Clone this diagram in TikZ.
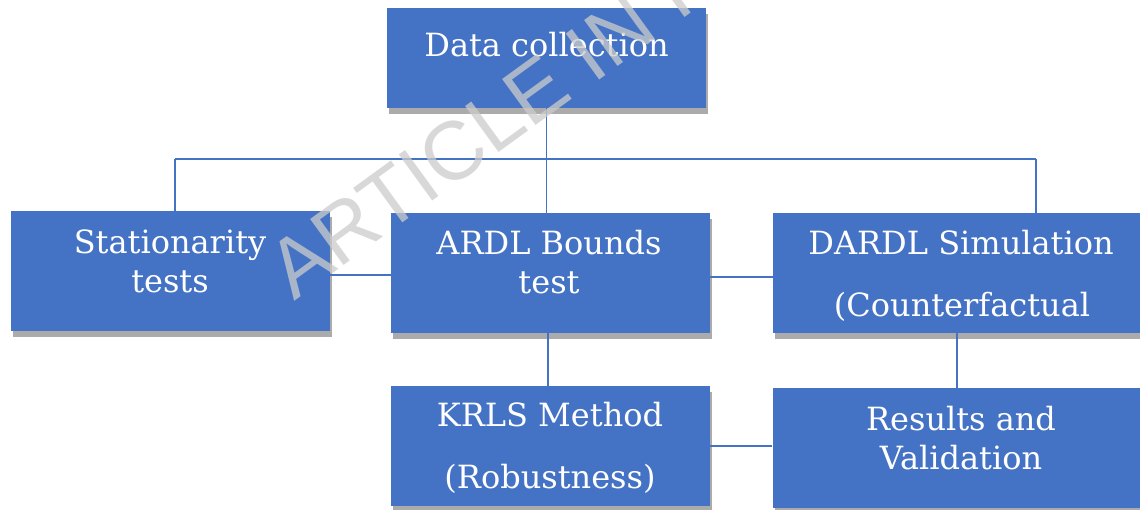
\documentclass[tikz,border=0pt]{standalone}
\usepackage{fontspec}
\setmainfont{DejaVu Serif}
\newfontfamily\wmfont{Liberation Sans}
\usetikzlibrary{shadows}
\definecolor{boxblue}{HTML}{4472C4}
\definecolor{shadowgray}{HTML}{ABABAB}
\definecolor{wmgray}{HTML}{CCCCCC}
\tikzset{
  box/.style={fill=boxblue, draw=none, minimum width=239.25pt, minimum height=90pt, inner sep=0pt,
    drop shadow={shadow xshift=1.5pt, shadow yshift=-4.5pt, fill=shadowgray, opacity=1}},
  widebox/.style={box, minimum width=282pt},
  shortbox/.style={box, minimum height=75pt},
  txt/.style={text=white, anchor=base, inner sep=0pt, font=\fontsize{24}{29}\selectfont},
  conn/.style={draw=boxblue, line width=1.3pt},
}
\begin{document}
\begin{tikzpicture}[x=0.75pt,y=-0.75pt]
\useasboundingbox (0,0) rectangle (1140,510);
\clip (0,0) rectangle (1140,510);
\fill[white] (0,0) rectangle (1140,510);
% boxes
\node[shortbox] (dc) at (546.5,58) {};
\node[box] (st) at (170.5,271) {};
\node[box] (ardl) at (550.5,273) {};
\node[widebox] (dardl) at (961,273) {};
\node[box] (krls) at (550.5,446) {};
\node[widebox] (res) at (960.5,448) {};
% texts
\node[txt] (t1) at (546.5,57) {Data collection};
\node[txt] (t2) at (170,253) {Stationarity};
\node[txt] (t3) at (170,292) {tests};
\node[txt] (t4) at (549,254) {ARDL Bounds};
\node[txt] (t5) at (549,293) {test};
\node[txt] (t6) at (961,254) {DARDL Simulation};
\node[txt] (t7) at (962,316) {(Counterfactual};
\node[txt] (t8) at (550,426) {KRLS Method};
\node[txt] (t9) at (550,488) {(Robustness)};
\node[txt] (t10) at (961,430) {Results and};
\node[txt] (t11) at (961,469) {Validation};
% connectors
\coordinate (jl) at (175,159);
\coordinate (jr) at (1036,159);
\draw[conn] (jl) -- (jr);
\draw[conn] (jl) -- (jl |- st.north);
\draw[conn] (jr) -- (jr |- dardl.north);
\draw[conn] (dc.south) -- (dc.south |- ardl.north);
\draw[conn] ([yshift=-3pt]st.east) -- ([yshift=-3pt]st.east -| ardl.west);
\draw[conn] ([yshift=-3pt]ardl.east) -- ([yshift=-3pt]ardl.east -| dardl.west);
\draw[conn] ([xshift=-2pt]ardl.south) -- ([xshift=-2pt]ardl.south |- krls.north);
\draw[conn] ([xshift=-3pt]dardl.south) -- ([xshift=-3pt]dardl.south |- res.north);
\draw[conn] (krls.east) -- (krls.east -| res.west);
% watermark
\node[anchor=base west, rotate=36, inner sep=0pt, text=wmgray, opacity=0.75,
      font=\wmfont\fontsize{62}{70}\selectfont] (wm) at (294,302) {ARTICLE IN PRESS};
\end{tikzpicture}
\end{document}
